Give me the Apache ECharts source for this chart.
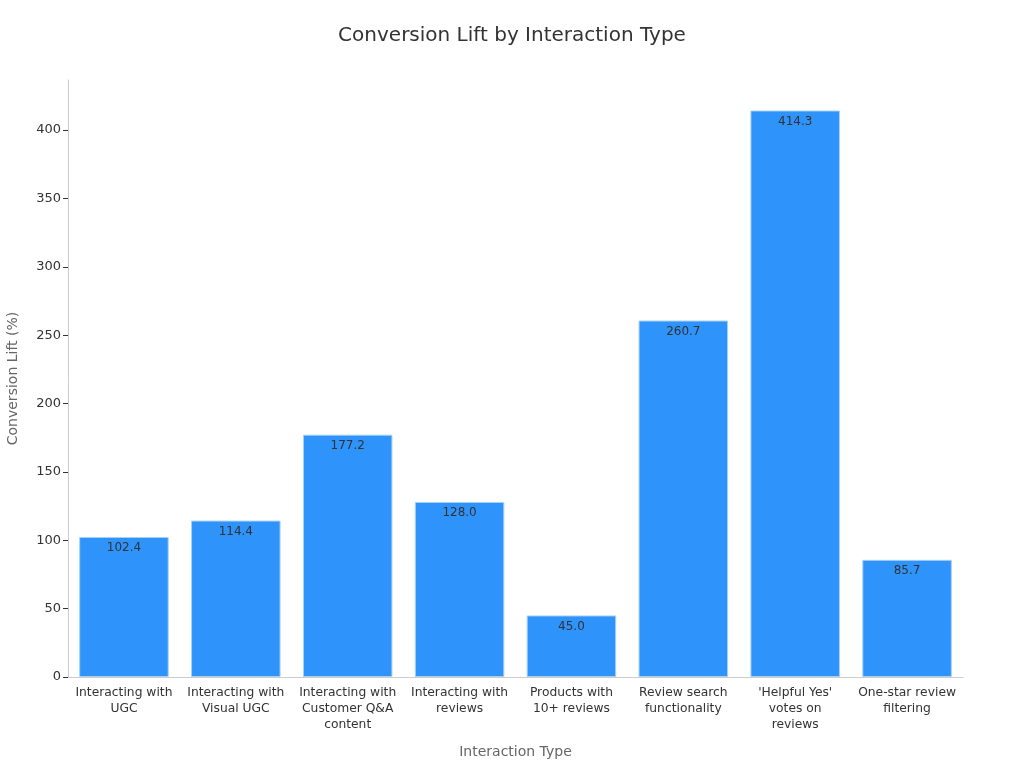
<!DOCTYPE html>
<html>
<head>
<meta charset="utf-8">
<script src="https://cdn.jsdelivr.net/npm/echarts@6/dist/echarts.min.js"></script>
<style>
  html, body { margin: 0; padding: 0; background: #fff; }
  #chart { width: 1024px; height: 768px; }
</style>
</head>
<body>
<div id="chart"></div>
<script>
// 分类和数值
var categories = [
    'Interacting with\nUGC',
    'Interacting with\nVisual UGC',
    'Interacting with\nCustomer Q&A\ncontent',
    'Interacting with\nreviews',
    'Products with\n10+ reviews',
    'Review search\nfunctionality',
    "'Helpful Yes'\nvotes on\nreviews",
    'One-star review\nfiltering'
];
var liftValues = [102.4, 114.4, 177.2, 128.0, 45.0, 260.7, 414.3, 85.7];

var myChart = echarts.init(document.getElementById('chart'));
var fontName = 'DejaVu Sans';

var option = {
    textStyle: { fontFamily: fontName },
    title: {
        text: 'Conversion Lift by Interaction Type',
        left: 'center',
        top: 21,
        textStyle: {
            fontFamily: fontName,
            fontWeight: 'normal',
            fontSize: 20,
            color: '#333'
        }
    },
    grid: {
        left: 68,
        right: 61,
        top: 80,
        bottom: 91,
        containLabel: false,
        outerBoundsMode: 'none'
    },
    xAxis: {
        type: 'category',
        data: categories,
        name: 'Interaction Type',
        nameLocation: 'middle',
        nameGap: 68,
        nameTextStyle: { fontFamily: fontName, fontSize: 14, color: '#666' },
        axisLine: { lineStyle: { color: '#ccc' } },
        axisTick: { alignWithLabel: true, lineStyle: { color: '#999' } },
        axisLabel: {
            interval: 0,
            fontFamily: fontName,
            fontSize: 12.3,
            color: '#333',
            lineHeight: 16
        }
    },
    yAxis: {
        type: 'value',
        min: 0,
        max: 436.6,
        interval: 50,
        name: 'Conversion Lift (%)',
        nameLocation: 'middle',
        nameGap: 48,
        nameTextStyle: { fontFamily: fontName, fontSize: 14, color: '#666' },
        axisLine: { show: true, lineStyle: { color: '#ccc' } },
        axisTick: { show: true, lineStyle: { color: '#333' } },
        splitLine: { show: false },
        axisLabel: {
            fontFamily: fontName,
            fontSize: 13,
            color: '#333',
            margin: 7,
            showMaxLabel: false
        }
    },
    series: [
        {
            name: 'Conversion Lift',
            type: 'bar',
            data: liftValues,
            barCategoryGap: '20%',
            itemStyle: {
                color: '#2E93FA',
                borderColor: '#a8d0f5',
                borderWidth: 1
            },
            label: {
                show: true,
                position: 'insideTop',
                distance: 5,
                fontFamily: fontName,
                fontSize: 12,
                color: '#333',
                formatter: function (p) {
                    return p.value.toFixed(1);
                }
            }
        }
    ]
};
myChart.setOption(option);
</script>
</body>
</html>
